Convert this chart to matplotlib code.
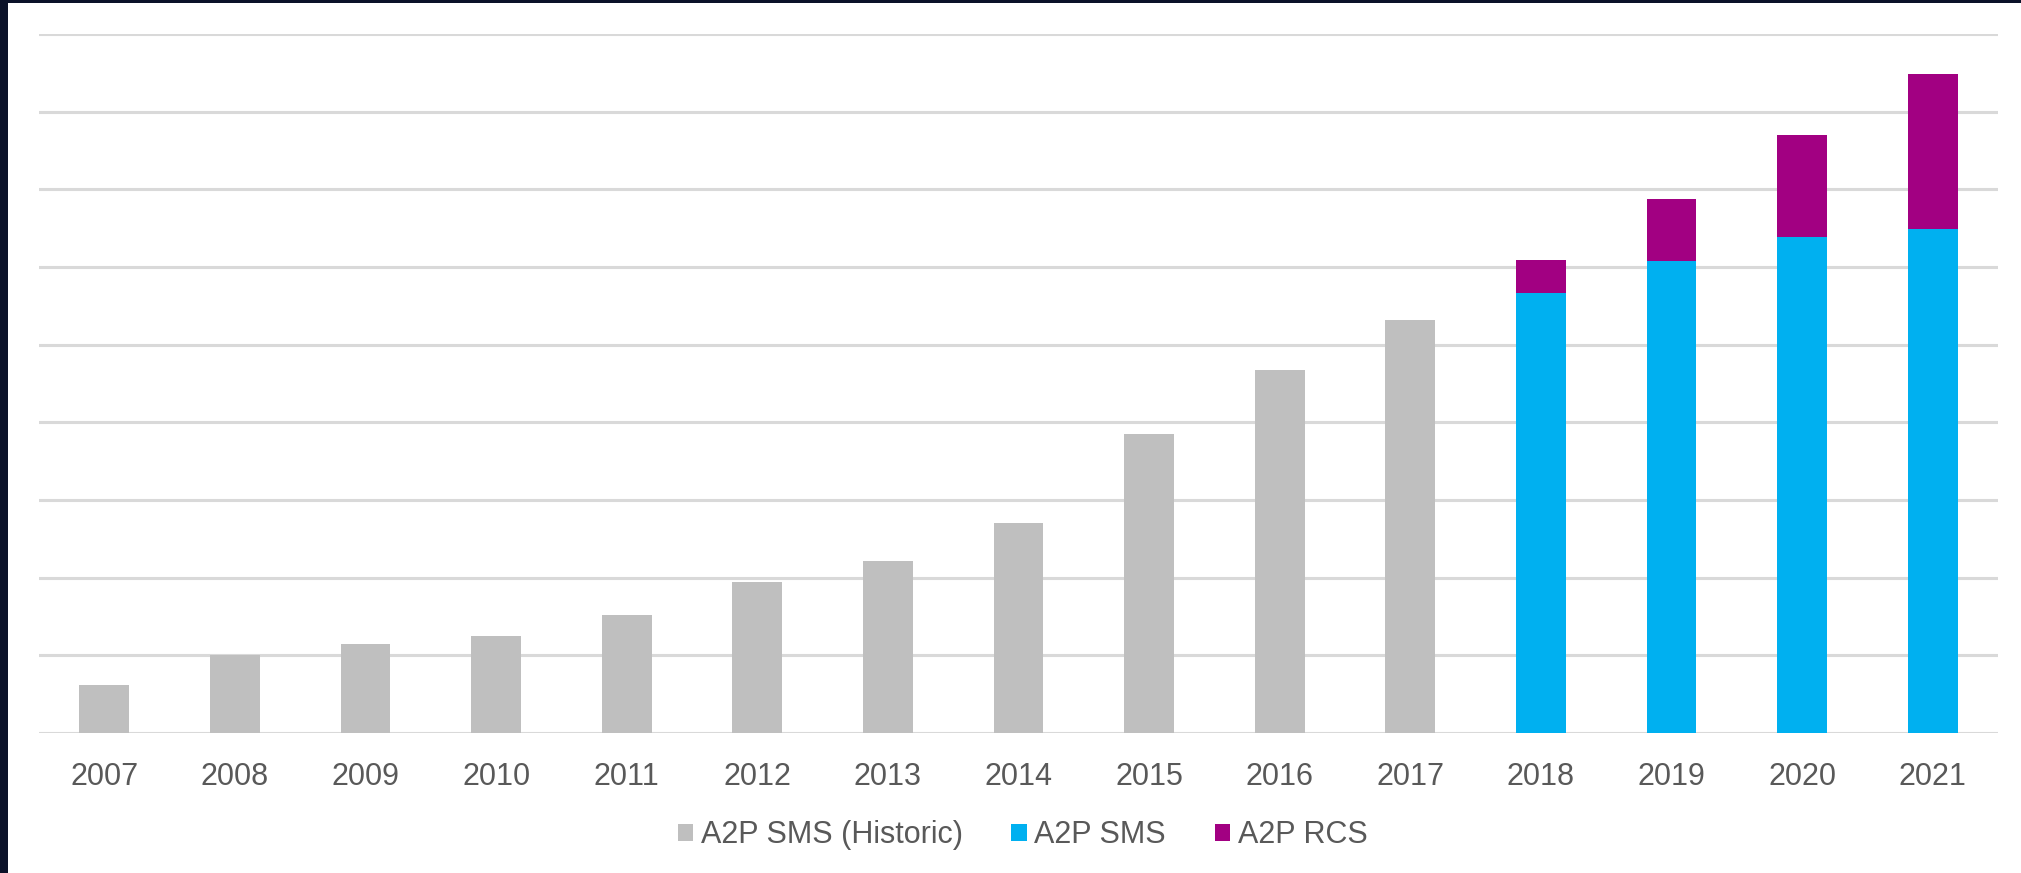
import numpy as np
import matplotlib.pyplot as plt
from matplotlib.patches import Rectangle

# Dati
years = ["2007", "2008", "2009", "2010", "2011", "2012", "2013", "2014",
         "2015", "2016", "2017", "2018", "2019", "2020", "2021"]
sms_historic = [0.62, 1.00, 1.15, 1.25, 1.52, 1.95, 2.22, 2.70,
                3.85, 4.67, 5.32, 0, 0, 0, 0]
sms = [0, 0, 0, 0, 0, 0, 0, 0, 0, 0, 0, 5.67, 6.08, 6.39, 6.49]
rcs = [0, 0, 0, 0, 0, 0, 0, 0, 0, 0, 0, 0.42, 0.80, 1.31, 2.00]

GREY = "#BFBFBF"
CYAN = "#00B0F0"
PURPLE = "#A20082"
GRID = "#D9D9D9"
TEXT = "#595959"

plt.rcParams["font.family"] = ["Liberation Sans", "DejaVu Sans"]

fig = plt.figure(figsize=(20.21, 8.73), dpi=100)
ax = fig.add_axes([39 / 2021, 1 - 733 / 873, (1998 - 39) / 2021, (733 - 34) / 873])

# bordo scuro sinistra/alto
fig.patches.append(Rectangle((0, 0), 8 / 2021, 1, transform=fig.transFigure,
                             facecolor="#0B1229", edgecolor="none", zorder=10))
fig.patches.append(Rectangle((0, 1 - 3 / 873), 1, 3 / 873, transform=fig.transFigure,
                             facecolor="#0B1229", edgecolor="none", zorder=10))

x = np.arange(len(years))
w = 0.38
ax.bar(x, sms_historic, w, color=GREY, label="A2P SMS (Historic)", zorder=3)
ax.bar(x, sms, w, color=CYAN, label="A2P SMS", zorder=3)
ax.bar(x, rcs, w, bottom=sms, color=PURPLE, label="A2P RCS", zorder=3)

ax.set_xlim(-0.5, len(years) - 0.5)
ax.set_ylim(0, 9)
ax.set_yticks(np.arange(0, 10, 1))
ax.yaxis.grid(True, color=GRID, linewidth=2.2, zorder=0)
ax.set_axisbelow(True)
ax.tick_params(axis="y", left=False, labelleft=False)
ax.set_xticks(x)
ax.set_xticklabels(years, fontsize=22, color=TEXT)
ax.tick_params(axis="x", length=0, pad=21)
for s in ax.spines.values():
    s.set_visible(False)

fig.legend(loc="center", bbox_to_anchor=(0.506, 0.043), ncol=3, frameon=False,
           fontsize=22, labelcolor=TEXT, handlelength=0.5, handleheight=0.5,
           handletextpad=0.25, columnspacing=1.6)

fig.savefig("out.png", dpi=100, facecolor="white")
